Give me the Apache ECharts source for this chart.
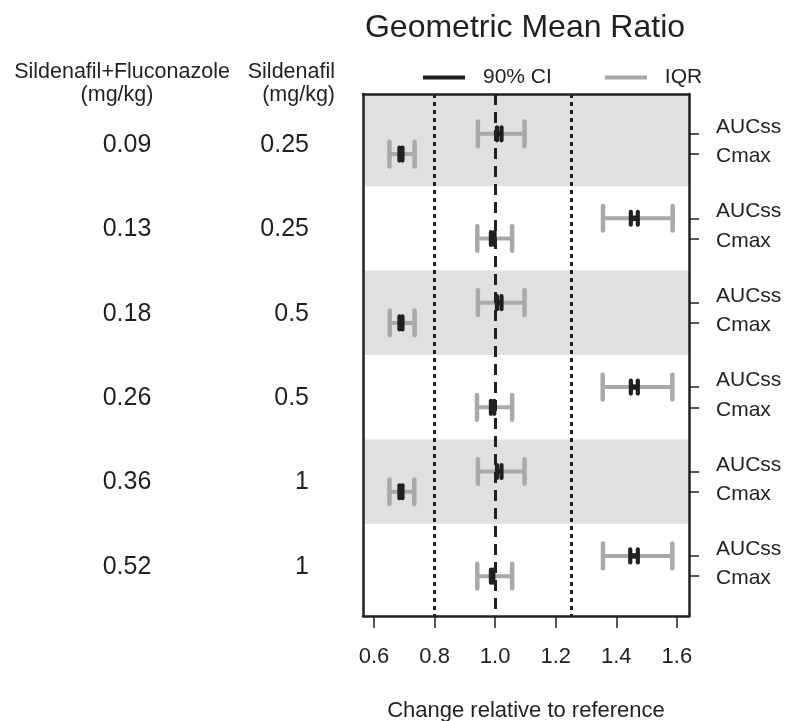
<!DOCTYPE html>
<html>
<head>
<meta charset="utf-8">
<title>Geometric Mean Ratio</title>
<script src="https://cdn.jsdelivr.net/npm/echarts@6/dist/echarts.min.js"></script>
<style>
html, body { margin: 0; padding: 0; background: #fff; }
#main { width: 787px; height: 721px; }
</style>
</head>
<body>
<div id="main"></div>
<script>
// dose columns (one row per regimen, top to bottom)
var comboDose = ['0.09', '0.13', '0.18', '0.26', '0.36', '0.52'];
var sildDose = ['0.25', '0.25', '0.5', '0.5', '1', '1'];

// AUCss: IQR and 90% CI, [low, high] per row
var aucIqr = [[0.943, 1.097], [1.356, 1.586], [0.943, 1.097], [1.355, 1.585], [0.943, 1.097], [1.356, 1.585]];
var aucCi = [[1.006, 1.021], [1.448, 1.471], [1.006, 1.021], [1.448, 1.471], [1.006, 1.021], [1.446, 1.471]];
// Cmax: IQR and 90% CI
var cmaxIqr = [[0.651, 0.734], [0.941, 1.056], [0.652, 0.734], [0.940, 1.056], [0.651, 0.733], [0.941, 1.056]];
var cmaxCi = [[0.684, 0.694], [0.986, 0.998], [0.684, 0.694], [0.986, 0.997], [0.684, 0.694], [0.986, 0.994]];

var xTicks = [0.6, 0.8, 1.0, 1.2, 1.4, 1.6];
var refLines = [0.8, 1.0, 1.25];
var shadedRows = [0, 2, 4];
var measures = ['AUCss', 'Cmax'];

var xMin = 0.5637, xMax = 1.640;
var yMin = -0.092, yMax = 6.092;
var aucPos = 0.38, cmaxPos = 0.62;      // tick position inside a row
var aucLab = 0.30, cmaxLab = 0.65;      // label position inside a row

var txt = '#231f20';
var font = 'Liberation Sans, Arial, sans-serif';

function rows(list, off) {
	var out = [];
	for (var i = 0; i < list.length; i++) {
		out.push([list[i][0], list[i][1], i + off]);
	}
	return out;
}

var iqrData = rows(aucIqr, aucPos).concat(rows(cmaxIqr, cmaxPos));
var ciData = rows(aucCi, aucPos).concat(rows(cmaxCi, cmaxPos));

var rowCenters = [], tickVals = [], labelVals = [];
for (var i = 0; i < comboDose.length; i++) {
	rowCenters.push(i + 0.51);
	tickVals.push(i + aucPos, i + cmaxPos);
	labelVals.push(i + aucLab, i + cmaxLab);
}

var bands = [];
shadedRows.forEach(function (r) {
	bands.push([{ yAxis: r === 0 ? yMin : r }, { yAxis: r + 1 }]);
});

function errorBar(capHalf, lw, capW, color) {
	return function (params, api) {
		var y = api.value(2);
		var a = api.coord([api.value(0), y]);
		var b = api.coord([api.value(1), y]);
		var bar = { stroke: color, lineWidth: lw };
		var cap = { stroke: color, lineWidth: capW, lineCap: 'round' };
		return {
			type: 'group',
			children: [
				{ type: 'line', shape: { x1: a[0], y1: a[1], x2: b[0], y2: b[1] }, style: bar },
				{ type: 'line', shape: { x1: a[0], y1: a[1] - capHalf, x2: a[0], y2: a[1] + capHalf }, style: cap },
				{ type: 'line', shape: { x1: b[0], y1: b[1] - capHalf, x2: b[0], y2: b[1] + capHalf }, style: cap }
			]
		};
	};
}

var border = { show: true, onZero: false, lineStyle: { color: txt, width: 2.5 } };

var option = {
	animation: false,
	textStyle: { fontFamily: font, color: txt },
	title: {
		text: 'Geometric Mean Ratio',
		left: 525,
		top: 12,
		padding: 0,
		textAlign: 'center',
		textStyle: { fontSize: 32, fontWeight: 'normal', color: txt, fontFamily: font }
	},
	legend: {
		left: 423,
		top: 67,
		padding: 0,
		itemWidth: 42,
		itemHeight: 4,
		itemGap: 53,
		icon: 'rect',
		data: ['90% CI', 'IQR'],
		textStyle: { fontSize: 21, color: txt, fontFamily: font, padding: [0, 0, 0, 13] }
	},
	grid: { left: 363, right: 98, top: 94, bottom: 105, outerBoundsMode: 'none', containLabel: false },
	xAxis: [{
		type: 'value',
		position: 'bottom',
		min: xMin,
		max: xMax,
		z: 5,
		splitLine: { show: false },
		axisLine: border,
		axisTick: { show: true, customValues: xTicks, length: 12, lineStyle: { color: txt, width: 1.5 } },
		axisLabel: {
			customValues: xTicks,
			fontSize: 22,
			color: txt,
			margin: 30,
			formatter: function (v) { return v.toFixed(1); }
		},
		name: 'Change relative to reference',
		nameLocation: 'middle',
		nameGap: 84,
		nameTextStyle: { fontSize: 22, color: txt }
	}, {
		type: 'value',
		position: 'top',
		min: xMin,
		max: xMax,
		z: 5,
		splitLine: { show: false },
		axisLine: border,
		axisTick: { show: false },
		axisLabel: { show: false }
	}],
	yAxis: [{
		type: 'value',
		position: 'left',
		min: yMin,
		max: yMax,
		inverse: true,
		z: 5,
		splitLine: { show: false },
		axisLine: border,
		axisTick: { show: false },
		axisLabel: {
			customValues: rowCenters,
			margin: 54,
			formatter: function (v) {
				var i = Math.floor(v);
				return '{a|' + comboDose[i] + '}{b|' + sildDose[i] + '}';
			},
			rich: {
				a: { width: 120, align: 'center', fontSize: 25, color: txt, fontFamily: font },
				b: { width: 122, align: 'right', fontSize: 25, color: txt, fontFamily: font }
			}
		}
	}, {
		type: 'value',
		position: 'right',
		min: yMin,
		max: yMax,
		inverse: true,
		z: 5,
		splitLine: { show: false },
		axisLine: border,
		axisTick: { show: true, customValues: tickVals, length: 10, lineStyle: { color: txt, width: 1.5 } },
		axisLabel: {
			customValues: labelVals,
			margin: 27,
			fontSize: 21,
			color: txt,
			formatter: function (v) {
				return (v - Math.floor(v)) < 0.5 ? measures[0] : measures[1];
			}
		}
	}],
	series: [{
		// background bands and reference lines
		type: 'custom',
		name: 'bg',
		z: 1,
		data: [],
		renderItem: function () { return null; },
		markArea: {
			silent: true,
			itemStyle: { color: '#dfe0e2' },
			data: bands
		},
		markLine: {
			silent: true,
			symbol: 'none',
			label: { show: false },
			data: refLines.map(function (v) {
				return {
					xAxis: v,
					lineStyle: v === 1.0
						? { color: txt, width: 3, type: [11, 7] }
						: { color: txt, width: 3, type: [4, 4] }
				};
			})
		}
	}, {
		type: 'custom',
		name: 'IQR',
		z: 3,
		itemStyle: { color: '#a8a9ab' },
		encode: { x: [0, 1], y: 2 },
		renderItem: errorBar(12.3, 4, 4.5, '#a8a9ab'),
		data: iqrData
	}, {
		type: 'custom',
		name: '90% CI',
		z: 4,
		itemStyle: { color: txt },
		encode: { x: [0, 1], y: 2 },
		renderItem: errorBar(6.5, 5.5, 4.2, txt),
		data: ciData
	}],
	graphic: [
		{ type: 'text', x: 122, y: 72, style: { text: 'Sildenafil+Fluconazole', fontSize: 21.5, fontFamily: font, fill: txt, align: 'center', verticalAlign: 'middle' } },
		{ type: 'text', x: 117, y: 95, style: { text: '(mg/kg)', fontSize: 21.5, fontFamily: font, fill: txt, align: 'center', verticalAlign: 'middle' } },
		{ type: 'text', x: 335, y: 72, style: { text: 'Sildenafil', fontSize: 21.5, fontFamily: font, fill: txt, align: 'right', verticalAlign: 'middle' } },
		{ type: 'text', x: 335, y: 95, style: { text: '(mg/kg)', fontSize: 21.5, fontFamily: font, fill: txt, align: 'right', verticalAlign: 'middle' } }
	]
};

var myChart = echarts.init(document.getElementById('main'));
myChart.setOption(option);
</script>
</body>
</html>
